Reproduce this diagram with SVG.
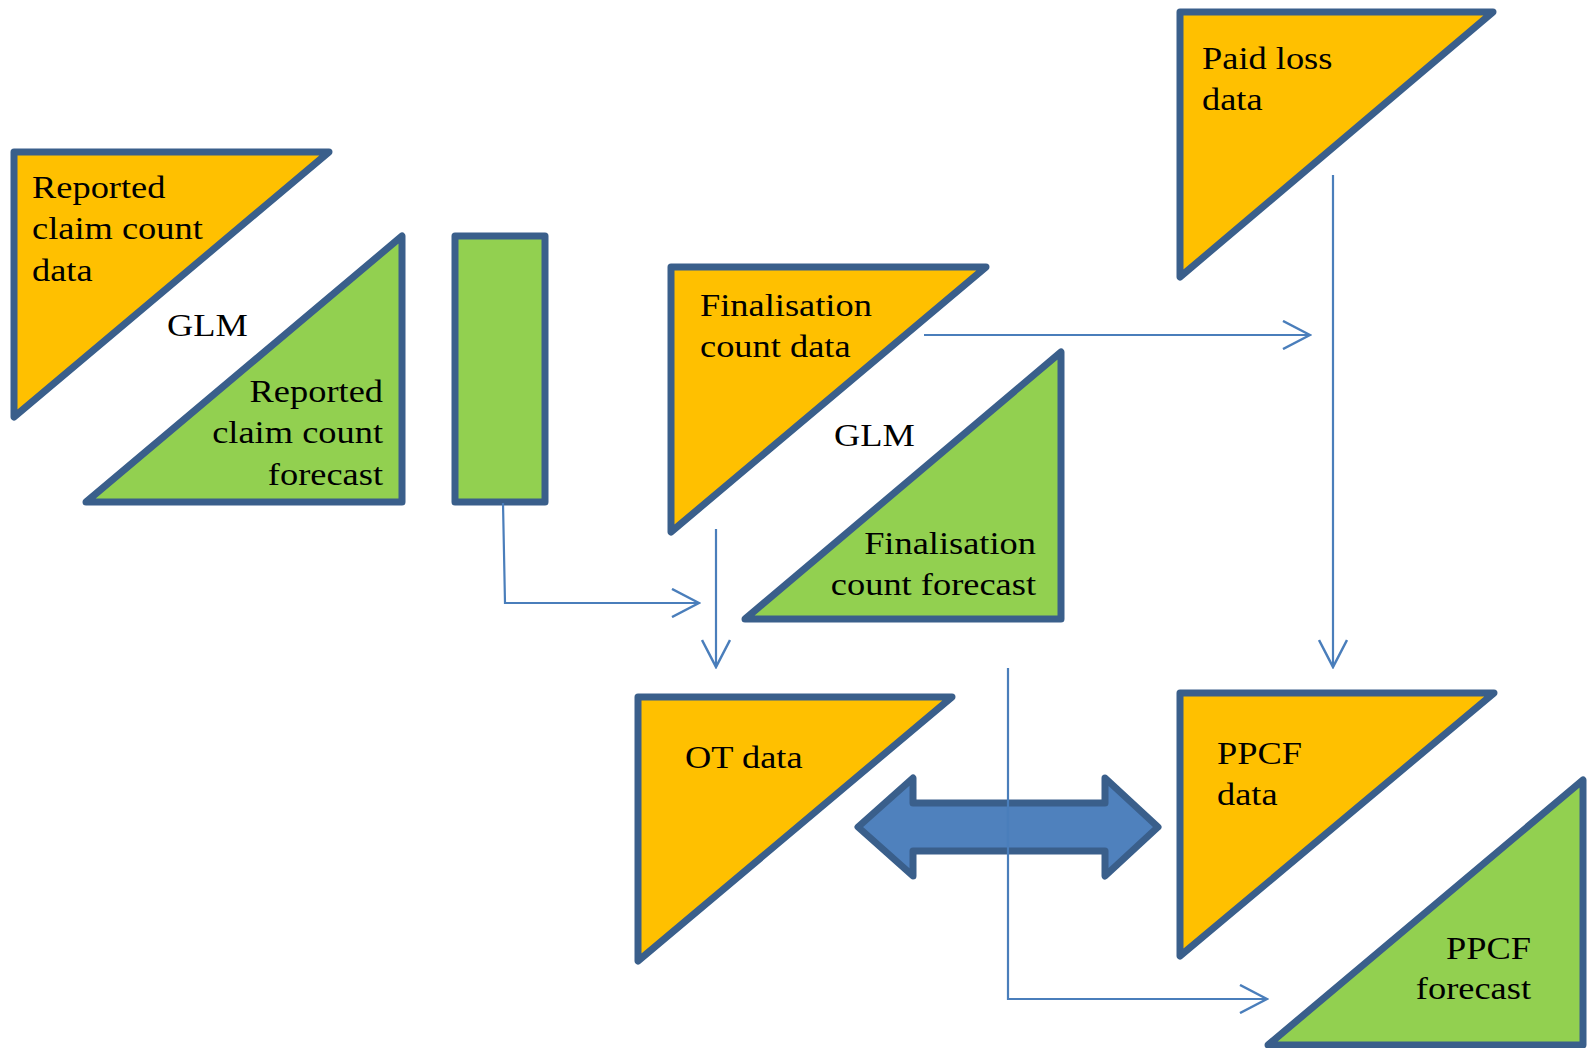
<svg xmlns="http://www.w3.org/2000/svg" width="1587" height="1048" viewBox="0 0 1587 1048">
<style>
.data{fill:#FFC000;stroke:#3A5F8B;stroke-width:7;stroke-linejoin:round}
.fc{fill:#92D050;stroke:#3A5F8B;stroke-width:7;stroke-linejoin:round}
.t{font-family:"Liberation Serif","Times New Roman",serif;font-size:32.5px;fill:#000}
.e{text-anchor:end}
.conn{fill:none;stroke:#4A7EBB;stroke-width:2.2}
.big{fill:#4F81BD;stroke:#3A5F8B;stroke-width:7;stroke-linejoin:round}
</style>
<defs>
<marker id="arr" markerUnits="userSpaceOnUse" markerWidth="30" markerHeight="30" viewBox="0 0 30 30" refX="28" refY="15" orient="auto">
<path d="M1,1 L28,15 L1,29" fill="none" stroke="#4A7EBB" stroke-width="2.5"/>
</marker>
</defs>
<rect width="1587" height="1048" fill="#fff"/>
<g id="reported-data">
<polygon class="data" points="14,152 329,152 14,417"/>
<text class="t" transform="translate(32,198) scale(1.12,1)"><tspan x="0" y="0">Reported</tspan><tspan x="0" y="41.5">claim count</tspan><tspan x="0" y="83">data</tspan></text>
</g>
<g id="glm1"><text class="t" transform="translate(167,336) scale(1.12,1)">GLM</text></g>
<g id="reported-forecast">
<polygon class="fc" points="402,236 402,502 86,502"/>
<text class="t e" transform="translate(383,402) scale(1.12,1)"><tspan x="0" y="0">Reported</tspan><tspan x="0" y="41.5">claim count</tspan><tspan x="0" y="83">forecast</tspan></text>
</g>
<g id="bar"><rect class="fc" x="455" y="236" width="90" height="266"/></g>
<g id="final-data">
<polygon class="data" points="671,267 986,267 671,532"/>
<text class="t" transform="translate(700,316) scale(1.12,1)"><tspan x="0" y="0">Finalisation</tspan><tspan x="0" y="41.5">count data</tspan></text>
</g>
<g id="glm2"><text class="t" transform="translate(834,446) scale(1.12,1)">GLM</text></g>
<g id="final-forecast">
<polygon class="fc" points="1061,352 1061,619 745,619"/>
<text class="t e" transform="translate(1036,554) scale(1.12,1)"><tspan x="0" y="0">Finalisation</tspan><tspan x="0" y="41.5">count forecast</tspan></text>
</g>
<g id="paid-loss">
<polygon class="data" points="1180,12 1493,12 1180,277"/>
<text class="t" transform="translate(1202,69) scale(1.12,1)"><tspan x="0" y="0">Paid loss</tspan><tspan x="0" y="41">data</tspan></text>
</g>
<g id="ot-data">
<polygon class="data" points="638,697 952,697 638,961"/>
<text class="t" transform="translate(685,768) scale(1.12,1)">OT data</text>
</g>
<g id="ppcf-data">
<polygon class="data" points="1180,693 1494,693 1180,956"/>
<text class="t" transform="translate(1217,764) scale(1.12,1)"><tspan x="0" y="0">PPCF</tspan><tspan x="0" y="41.5">data</tspan></text>
</g>
<g id="ppcf-forecast">
<polygon class="fc" points="1583,780 1583,1045 1268,1045"/>
<text class="t e" transform="translate(1531,959) scale(1.12,1)"><tspan x="0" y="0">PPCF</tspan><tspan x="0" y="40.5">forecast</tspan></text>
</g>
<g id="double-arrow">
<polygon class="big" points="858,827 913,778 913,803 1105,803 1105,778 1158,827 1105,876 1105,851 913,851 913,876"/>
</g>
<g id="connectors">
<path class="conn" d="M503,503 L505,603 L699,603" marker-end="url(#arr)"/>
<path class="conn" d="M716,529 L716,667" marker-end="url(#arr)"/>
<path class="conn" d="M924,335 L1310,335" marker-end="url(#arr)"/>
<path class="conn" d="M1333,175 L1333,667" marker-end="url(#arr)"/>
<path class="conn" d="M1008,668 L1008,999 L1267,999" marker-end="url(#arr)"/>
</g>
</svg>
